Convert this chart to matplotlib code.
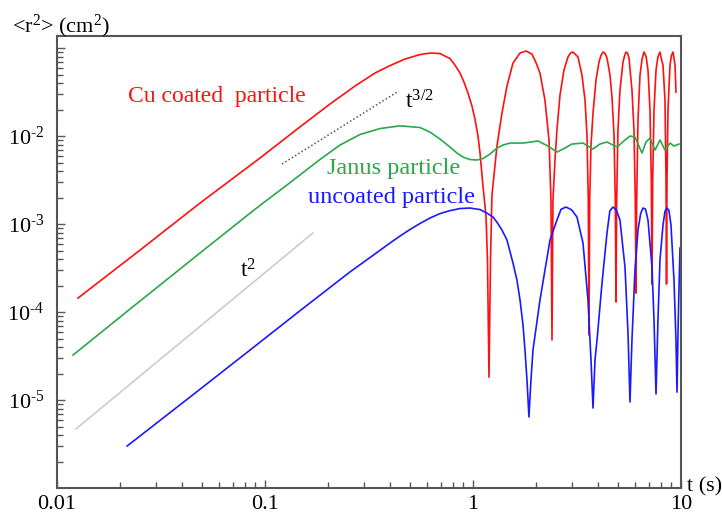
import matplotlib
matplotlib.use('Agg')
import matplotlib.pyplot as plt

plt.rcParams['font.family'] = ['Liberation Serif', 'DejaVu Serif']
plt.rcParams['mathtext.default'] = 'regular'

# Cu coated particle
t_cu = [0.01262, 0.0251, 0.0487, 0.0946, 0.147, 0.2054, 0.2709, 0.338, 0.399, 0.471,
        0.556, 0.621, 0.694, 0.775, 0.819, 0.866, 0.905, 0.946, 0.989,
        1.022, 1.057, 1.081, 1.117, 1.155, 1.174, 1.194,
        1.214, 1.234, 1.304, 1.378, 1.457, 1.557, 1.683, 1.798, 1.921, 2.01, 2.099,
        2.218, 2.320, 2.371, 2.398, 2.424, 2.479, 2.533, 2.620, 2.738, 2.862, 2.944,
        3.026, 3.11, 3.198, 3.342, 3.456, 3.532, 3.584, 3.612, 3.640, 3.693, 3.776,
        3.903, 4.035, 4.12, 4.217, 4.32, 4.408, 4.557, 4.659, 4.764, 4.832, 4.870, 4.908,
        4.978, 5.089, 5.262, 5.35, 5.439, 5.54, 5.623, 5.812, 5.943, 6.030, 6.077, 6.124,
        6.213, 6.353, 6.50, 6.640, 6.80, 6.940, 7.096, 7.198, 7.254, 7.311, 7.418, 7.585,
        7.75, 7.925, 8.07, 8.195, 8.375, 8.473, 8.52, 8.566, 8.66, 8.854, 9.0, 9.153,
        9.26, 9.359, 9.462]
r2_cu = [1.44e-4, 5.06e-4, 1.73e-3, 5.62e-3, 0.01265, 0.0231, 0.0370, 0.0520, 0.0632, 0.0750,
         0.0843, 0.0877, 0.0866, 0.0760, 0.0641, 0.0520, 0.0411, 0.0308, 0.0219,
         0.0156, 0.0100, 6.41e-3, 2.70e-3, 1.23e-3, 3.90e-4, 1.82e-5,
         3.90e-4, 2.14e-3, 7.70e-3, 0.0182, 0.0370, 0.0675, 0.0877, 0.0925, 0.0855, 0.068, 0.0520,
         0.0256, 9.0e-3, 1.87e-3, 4.81e-5, 1.87e-3, 5.34e-3, 0.0117, 0.0292, 0.0562, 0.0790, 0.0879,
         0.0901, 0.0845, 0.0790, 0.0493, 0.0256, 0.0103, 1.87e-3, 5.48e-5, 1.87e-3, 7.90e-3, 0.0182,
         0.0433, 0.0694, 0.082, 0.0901, 0.0867, 0.0769, 0.0493, 0.0277, 0.0103, 1.87e-3, 1.30e-4, 1.87e-3,
         0.0117, 0.0333, 0.0694, 0.0811, 0.0901, 0.0874, 0.0769, 0.0333, 0.0117, 1.87e-3, 1.64e-4, 1.87e-3,
         0.0152, 0.0493, 0.075, 0.0901, 0.080, 0.0562, 0.0197, 3.16e-3, 2.08e-4, 3.16e-3, 0.0197, 0.0562,
         0.080, 0.0901, 0.073, 0.0641, 0.0256, 3.16e-3, 2.08e-4, 3.16e-3, 0.0197, 0.0641, 0.0825, 0.0901,
         0.0765, 0.0641, 0.0316]

# Janus particle
t_janus = [0.01194, 0.02244, 0.0487, 0.0848, 0.1022, 0.1248, 0.147, 0.1838, 0.2295, 0.286,
           0.357, 0.446, 0.556, 0.621, 0.694, 0.775, 0.8375, 0.895, 0.967, 1.045,
           1.117, 1.207, 1.304, 1.394, 1.507, 1.740, 2.054, 2.294,
           2.533, 2.769, 2.992, 3.38, 3.776, 4.079, 4.408, 4.924, 5.38, 5.686,
           6.009, 6.494, 6.789, 7.096, 7.499, 7.925, 8.375, 8.854, 9.254, 9.78]
r2_janus = [3.24e-5, 1.08e-4, 4.68e-4, 1.33e-3, 1.87e-3, 2.67e-3, 3.60e-3, 5.41e-3, 7.90e-3, 0.0104,
            0.01216, 0.01306, 0.0125, 0.0111, 9.24e-3, 7.50e-3, 6.41e-3, 5.77e-3, 5.41e-3, 5.34e-3,
            5.55e-3, 6.24e-3, 7.31e-3, 7.90e-3, 8.32e-3, 8.32e-3, 8.78e-3, 7.70e-3,
            6.58e-3, 7.31e-3, 8.11e-3, 8.32e-3, 7.12e-3, 8.11e-3, 8.55e-3, 7.50e-3, 9.01e-3, 0.0100,
            9.74e-3, 6.41e-3, 8.55e-3, 9.49e-3, 6.93e-3, 9.01e-3, 6.93e-3, 8.32e-3, 7.70e-3, 8.11e-3]

# uncoated particle
t_unc = [0.02174, 0.0436, 0.0848, 0.147, 0.256, 0.3197, 0.399, 0.446, 0.4977, 0.556, 0.621,
         0.694, 0.775, 0.866, 0.967, 1.081, 1.168, 1.248, 1.304, 1.378, 1.457,
         1.557, 1.627, 1.683, 1.740, 1.778, 1.818, 1.858, 1.900,
         1.943, 2.099, 2.346, 2.533, 2.65, 2.800, 2.98, 3.162, 3.38, 3.572, 3.693, 3.776,
         3.86, 3.948, 4.172, 4.408, 4.55, 4.71, 4.88, 5.089, 5.38, 5.563, 5.686, 5.812,
         6.009, 6.213, 6.40, 6.567, 6.75, 6.94, 7.254, 7.418, 7.585, 7.75, 7.925, 8.195,
         8.38, 8.566, 8.75, 8.95, 9.254, 9.46, 9.567, 9.70, 9.89]
r2_unc = [3.00e-6, 1.08e-5, 3.70e-5, 1.03e-4, 2.85e-4, 4.16e-4, 6.08e-4, 7.31e-4, 8.66e-4, 1.014e-3, 1.17e-3,
          1.315e-3, 1.42e-3, 1.50e-3, 1.52e-3, 1.46e-3, 1.33e-3, 1.20e-3, 1.05e-3, 8.55e-4, 6.58e-4,
          3.60e-4, 2.31e-4, 1.37e-4, 7.11e-5, 3.70e-5, 1.69e-5, 6.41e-6, 1.69e-5,
          3.70e-5, 1.37e-4, 6.58e-4, 1.11e-3, 1.47e-3, 1.56e-3, 1.45e-3, 1.20e-3, 6.08e-4, 1.37e-4, 2.85e-5, 8.11e-6,
          2.85e-5, 4.81e-5, 2.14e-4, 7.91e-4, 1.41e-3, 1.56e-3, 1.45e-3, 1.11e-3, 3.24e-4, 5.77e-5, 9.49e-6, 4.81e-5,
          3.00e-4, 8.55e-4, 1.32e-3, 1.52e-3, 1.48e-3, 1.11e-3, 3.24e-4, 8.11e-5, 1.17e-5, 8.11e-5, 3.90e-4, 9.75e-4,
          1.40e-3, 1.52e-3, 1.43e-3, 9.75e-4, 2.31e-4, 4.81e-5, 1.23e-5, 8.11e-5, 5.33e-4]

# guide slopes
t_slope2 = [0.01233, 0.170]
r2_slope2 = [4.68e-6, 7.91e-4]
t_slope32 = [0.1208, 0.4315]
r2_slope32 = [4.81e-3, 0.0316]

fig = plt.figure(figsize=(7.22, 5.13), dpi=100)
ax = fig.add_axes([0.0789, 0.0487, 0.8643, 0.8811])

ax.plot(t_slope2, r2_slope2, color='#c8c8c8', lw=1.1)
ax.plot(t_slope32, r2_slope32, color='#555555', lw=1.1, ls=(0, (1, 1.5)))
ax.plot(t_cu, r2_cu, color='#ff1010', lw=1.2)
ax.plot(t_janus, r2_janus, color='#2aa84a', lw=1.2)
ax.plot(t_unc, r2_unc, color='#1a1aff', lw=1.2)

ax.set_xscale('log')
ax.set_yscale('log')
ax.set_xlim(0.01, 10)
ax.set_ylim(1e-6, 0.137)

ax.set_xticks([0.01, 0.1, 1, 10])
ax.set_xticklabels(['0.01', '0.1', '1', '10'])
ax.set_yticks([1e-5, 1e-4, 1e-3, 1e-2, 1e-1])
ax.set_yticklabels(['10$^{\u20105}$', '10$^{\u20104}$', '10$^{\u20103}$', '10$^{\u20102}$', ''])

ax.tick_params(which='both', direction='in', top=False, right=False, color='#555555', width=1)
ax.tick_params(which='major', length=6, labelsize=16)
ax.tick_params(which='minor', length=4)
ax.tick_params(axis='x', pad=5)
ax.tick_params(axis='y', pad=9)
for s in ax.spines.values():
    s.set_color('#555555')
    s.set_linewidth(1.5)

ax.text(0.0219, 0.0243, 'Cu coated  particle', color='#ff1010', fontsize=17, va='baseline')
ax.text(0.471, 0.0208, '$t^{3/2}$', color='black', fontsize=17, va='baseline')
ax.text(0.1986, 3.70e-3, 'Janus particle', color='#2aa84a', fontsize=17.5, va='baseline')
ax.text(0.161, 1.73e-3, 'uncoated particle', color='#1a1aff', fontsize=17.5, va='baseline')
ax.text(0.0758, 2.50e-4, '$t^{2}$', color='black', fontsize=17, va='baseline')

fig.text(0.0166, 0.9376, '<r$^{2}$> (cm$^{2}$)', fontsize=16, va='baseline')
fig.text(0.9515, 0.0429, 't (s)', fontsize=16, va='baseline')

fig.savefig('out.png', dpi=100)
